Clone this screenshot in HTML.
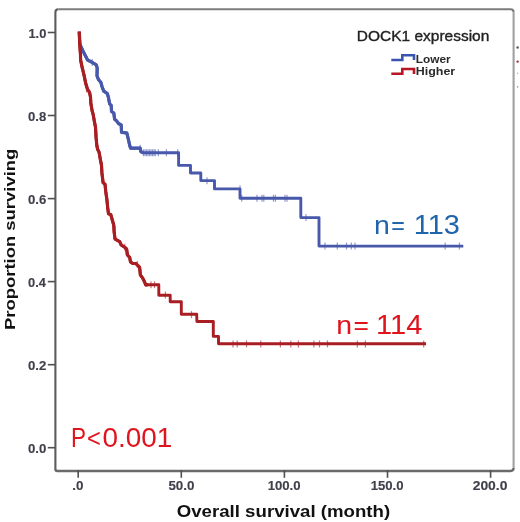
<!DOCTYPE html>
<html><head><meta charset="utf-8"><style>
html,body{margin:0;padding:0;background:#fff;}
body{width:520px;height:522px;overflow:hidden;}
svg{display:block;font-family:"Liberation Sans",sans-serif;}
</style></head><body>
<svg width="520" height="522" viewBox="0 0 520 522" style="filter:blur(0.55px)">
<rect width="520" height="522" fill="#fff"/>
<g fill="none" stroke-width="2.1" stroke-linecap="butt">
<path d="M55.4,469 L55.4,12.3 Q55.4,9.3 58.4,9.3" stroke="#5c5c5c"/>
<path d="M58.4,9.3 L510.6,9.3 Q513.6,9.3 513.6,12.3" stroke="#7c7c7c"/>
<path d="M513.6,12.3 L513.6,468.1" stroke="#a0a0a0"/>
<path d="M513.6,468.1 Q513.6,471.0 510.6,471.0 L57.4,471.0 Q55.4,471.0 55.4,469" stroke="#6a6a6a" stroke-width="2.4"/>
</g>
<g stroke="#505050" stroke-width="1.6"><line x1="47.8" y1="32.5" x2="55" y2="32.5"/><line x1="47.8" y1="115.5" x2="55" y2="115.5"/><line x1="47.8" y1="198.6" x2="55" y2="198.6"/><line x1="47.8" y1="281.6" x2="55" y2="281.6"/><line x1="47.8" y1="364.7" x2="55" y2="364.7"/><line x1="47.8" y1="447.7" x2="55" y2="447.7"/><line x1="78.2" y1="470" x2="78.2" y2="477.8"/><line x1="181.3" y1="470" x2="181.3" y2="477.8"/><line x1="284.4" y1="470" x2="284.4" y2="477.8"/><line x1="387.5" y1="470" x2="387.5" y2="477.8"/><line x1="490.6" y1="470" x2="490.6" y2="477.8"/></g>
<text transform="translate(28.49 38.00) scale(0.1283 0.1279)" font-size="100" textLength="139.01" lengthAdjust="spacingAndGlyphs" fill="#40404c" font-weight="bold" stroke="#40404c" stroke-width="1">1.0</text><text transform="translate(27.98 121.04) scale(0.1311 0.1279)" font-size="100" textLength="139.01" lengthAdjust="spacingAndGlyphs" fill="#40404c" font-weight="bold" stroke="#40404c" stroke-width="1">0.8</text><text transform="translate(27.98 204.08) scale(0.1316 0.1279)" font-size="100" textLength="139.01" lengthAdjust="spacingAndGlyphs" fill="#40404c" font-weight="bold" stroke="#40404c" stroke-width="1">0.6</text><text transform="translate(27.99 287.12) scale(0.1286 0.1279)" font-size="100" textLength="139.01" lengthAdjust="spacingAndGlyphs" fill="#40404c" font-weight="bold" stroke="#40404c" stroke-width="1">0.4</text><text transform="translate(27.98 370.16) scale(0.1320 0.1279)" font-size="100" textLength="139.01" lengthAdjust="spacingAndGlyphs" fill="#40404c" font-weight="bold" stroke="#40404c" stroke-width="1">0.2</text><text transform="translate(27.98 453.20) scale(0.1321 0.1279)" font-size="100" textLength="139.01" lengthAdjust="spacingAndGlyphs" fill="#40404c" font-weight="bold" stroke="#40404c" stroke-width="1">0.0</text><text transform="translate(72.19 490.10) scale(0.1338 0.1294)" font-size="100" textLength="83.40" lengthAdjust="spacingAndGlyphs" fill="#40404c" font-weight="bold" stroke="#40404c" stroke-width="1">.0</text><text transform="translate(168.39 490.10) scale(0.1334 0.1294)" font-size="100" textLength="194.63" lengthAdjust="spacingAndGlyphs" fill="#40404c" font-weight="bold" stroke="#40404c" stroke-width="1">50.0</text><text transform="translate(267.67 490.10) scale(0.1313 0.1294)" font-size="100" textLength="250.24" lengthAdjust="spacingAndGlyphs" fill="#40404c" font-weight="bold" stroke="#40404c" stroke-width="1">100.0</text><text transform="translate(370.67 490.10) scale(0.1313 0.1294)" font-size="100" textLength="250.24" lengthAdjust="spacingAndGlyphs" fill="#40404c" font-weight="bold" stroke="#40404c" stroke-width="1">150.0</text><text transform="translate(472.72 490.10) scale(0.1385 0.1294)" font-size="100" textLength="250.24" lengthAdjust="spacingAndGlyphs" fill="#40404c" font-weight="bold" stroke="#40404c" stroke-width="1">200.0</text>
<text transform="translate(176.74 516.60) scale(0.1864 0.1686)" font-size="100" textLength="1144.78" lengthAdjust="spacingAndGlyphs" fill="#111" font-weight="bold">Overall survival (month)</text><g transform="rotate(-90)"><text transform="translate(-330.03 14.50) scale(0.1844 0.1555)" font-size="100" textLength="983.40" lengthAdjust="spacingAndGlyphs" fill="#111" font-weight="bold">Proportion surviving</text></g><text transform="translate(356.83 40.90) scale(0.1548 0.1439)" font-size="100" textLength="855.91" lengthAdjust="spacingAndGlyphs" fill="#222" stroke="#222" stroke-width="2.5">DOCK1 expression</text><text transform="translate(415.81 62.60) scale(0.1181 0.1105)" font-size="100" textLength="294.48" lengthAdjust="spacingAndGlyphs" fill="#2a2a2a" font-weight="bold">Lower</text><text transform="translate(415.77 75.10) scale(0.1245 0.1090)" font-size="100" textLength="316.70" lengthAdjust="spacingAndGlyphs" fill="#2a2a2a" font-weight="bold">Higher</text>
<g fill="none" stroke-linejoin="round" stroke-linecap="butt">
<polyline points="79.3,32.0 79.8,44.0 80.9,46.5 82.9,50.8 85.8,56.5 87.6,60.0 92.2,62.4 96.2,64.8 97.2,68.0 97.0,75.8 98.5,79.6 100.8,82.2 102.0,86.5 103.8,91.2 107.3,93.5 108.5,97.7 109.6,103.8 111.2,105.4 111.5,111.5 113.8,113.0 114.6,119.2 116.5,120.8 118.5,123.5 121.2,125.0 121.5,132.3 126.8,133.0 128.3,139.0 129.6,145.0 130.6,148.2 140.2,148.2 140.8,151.5 143.0,152.8 178.6,152.8 178.6,165.4 190.5,165.4 190.5,173.0 200.8,173.0 200.8,180.6 214.5,180.6 214.5,188.9 240.0,188.9 240.0,198.3 300.8,198.3 300.8,217.6 319.0,217.6 319.0,246.1 463.3,246.1" stroke="#4858ab" stroke-width="2.9"/>
<polyline points="79.3,32.0 79.8,44.0 80.9,46.5 82.9,50.8 85.8,56.5 87.6,60.0 92.2,62.4 96.2,64.8 97.2,68.0 97.0,75.8 98.5,79.6 100.8,82.2 102.0,86.5 103.8,91.2 107.3,93.5 108.5,97.7 109.6,103.8 111.2,105.4 111.5,111.5 113.8,113.0 114.6,119.2 116.5,120.8 118.5,123.5 121.2,125.0 121.5,132.3 126.8,133.0 128.3,139.0 129.6,145.0 130.6,148.2 140.2,148.2 140.8,151.5 143.0,152.8" stroke="#4858ab" stroke-width="3.2"/>
<g stroke="#4858ab" stroke-width="1.2" opacity="0.6"><line x1="92.2" y1="58.9" x2="92.2" y2="65.9"/><line x1="97.1" y1="67.5" x2="97.1" y2="74.5"/><line x1="101.5" y1="82.5" x2="101.5" y2="89.5"/><line x1="108.5" y1="94.5" x2="108.5" y2="101.5"/><line x1="114.0" y1="112.5" x2="114.0" y2="119.5"/><line x1="121.3" y1="124.5" x2="121.3" y2="131.5"/><line x1="140.2" y1="144.7" x2="140.2" y2="151.7"/><line x1="143.5" y1="149.3" x2="143.5" y2="156.3"/><line x1="145.0" y1="149.3" x2="145.0" y2="156.3"/><line x1="146.5" y1="149.3" x2="146.5" y2="156.3"/><line x1="148.0" y1="149.3" x2="148.0" y2="156.3"/><line x1="149.5" y1="149.3" x2="149.5" y2="156.3"/><line x1="151.0" y1="149.3" x2="151.0" y2="156.3"/><line x1="152.5" y1="149.3" x2="152.5" y2="156.3"/><line x1="154.0" y1="149.3" x2="154.0" y2="156.3"/><line x1="155.3" y1="149.3" x2="155.3" y2="156.3"/><line x1="158.3" y1="149.3" x2="158.3" y2="156.3"/><line x1="166.4" y1="149.3" x2="166.4" y2="156.3"/><line x1="177.7" y1="149.3" x2="177.7" y2="156.3"/><line x1="207.0" y1="177.3" x2="207.0" y2="184.3"/><line x1="240.0" y1="185.3" x2="240.0" y2="192.3"/><line x1="241.7" y1="194.7" x2="241.7" y2="201.7"/><line x1="257.0" y1="194.7" x2="257.0" y2="201.7"/><line x1="262.0" y1="194.7" x2="262.0" y2="201.7"/><line x1="263.8" y1="194.7" x2="263.8" y2="201.7"/><line x1="273.5" y1="194.7" x2="273.5" y2="201.7"/><line x1="275.4" y1="194.7" x2="275.4" y2="201.7"/><line x1="285.0" y1="194.7" x2="285.0" y2="201.7"/><line x1="287.0" y1="194.7" x2="287.0" y2="201.7"/><line x1="306.0" y1="214.1" x2="306.0" y2="221.1"/><line x1="325.0" y1="242.6" x2="325.0" y2="249.6"/><line x1="337.3" y1="242.6" x2="337.3" y2="249.6"/><line x1="346.5" y1="242.6" x2="346.5" y2="249.6"/><line x1="351.3" y1="242.6" x2="351.3" y2="249.6"/><line x1="355.0" y1="242.6" x2="355.0" y2="249.6"/><line x1="445.2" y1="242.6" x2="445.2" y2="249.6"/><line x1="459.4" y1="242.6" x2="459.4" y2="249.6"/></g>
<polyline points="79.3,31.5 79.7,43.4 80.5,55.0 80.6,60.0 82.2,67.7 84.1,75.4 85.6,83.0 87.5,89.2 89.5,92.3 90.5,97.0 90.8,102.7 92.0,110.3 93.1,114.2 94.3,121.0 95.5,127.3 96.1,137.7 96.8,145.4 97.6,149.2 99.1,152.3 100.3,159.2 101.5,165.4 101.9,172.7 103.1,182.7 105.0,184.2 105.8,191.9 106.9,199.6 107.7,207.7 108.5,213.8 110.8,214.6 112.3,220.0 113.8,225.4 114.2,232.3 115.0,238.9 117.4,240.4 119.7,241.6 121.2,245.0 124.3,247.0 126.6,248.9 127.4,255.0 129.7,257.4 130.5,262.0 132.8,263.5 135.8,263.5 138.2,265.8 139.6,267.4 140.4,275.0 142.7,278.1 144.2,281.2 145.8,285.0 148.1,284.7 158.8,284.7 158.8,295.2 170.2,295.2 170.2,301.7 181.3,301.7 181.3,314.3 196.7,314.3 196.9,321.5 213.3,321.5 213.3,336.4 218.5,336.4 218.5,343.8 426.0,343.8" stroke="#a81e22" stroke-width="2.9"/>
<polyline points="79.3,31.5 79.7,43.4 80.5,55.0 80.6,60.0 82.2,67.7 84.1,75.4 85.6,83.0 87.5,89.2 89.5,92.3 90.5,97.0 90.8,102.7 92.0,110.3 93.1,114.2 94.3,121.0 95.5,127.3 96.1,137.7 96.8,145.4 97.6,149.2 99.1,152.3 100.3,159.2 101.5,165.4 101.9,172.7 103.1,182.7 105.0,184.2 105.8,191.9 106.9,199.6 107.7,207.7 108.5,213.8 110.8,214.6 112.3,220.0 113.8,225.4 114.2,232.3 115.0,238.9 117.4,240.4 119.7,241.6 121.2,245.0 124.3,247.0 126.6,248.9 127.4,255.0 129.7,257.4 130.5,262.0 132.8,263.5 135.8,263.5 138.2,265.8 139.6,267.4 140.4,275.0 142.7,278.1 144.2,281.2 145.8,285.0 148.1,284.7" stroke="#a81e22" stroke-width="3.2"/>
<g stroke="#a81e22" stroke-width="1.2" opacity="0.6"><line x1="86.5" y1="85.5" x2="86.5" y2="92.5"/><line x1="101.5" y1="161.9" x2="101.5" y2="168.9"/><line x1="113.3" y1="221.5" x2="113.3" y2="228.5"/><line x1="124.8" y1="243.8" x2="124.8" y2="250.8"/><line x1="137.3" y1="261.0" x2="137.3" y2="268.0"/><line x1="151.0" y1="281.2" x2="151.0" y2="288.2"/><line x1="154.5" y1="281.2" x2="154.5" y2="288.2"/><line x1="165.4" y1="291.5" x2="165.4" y2="298.5"/><line x1="191.5" y1="311.1" x2="191.5" y2="318.1"/><line x1="233.0" y1="340.4" x2="233.0" y2="347.4"/><line x1="237.2" y1="340.4" x2="237.2" y2="347.4"/><line x1="246.5" y1="340.4" x2="246.5" y2="347.4"/><line x1="260.8" y1="340.4" x2="260.8" y2="347.4"/><line x1="280.4" y1="340.4" x2="280.4" y2="347.4"/><line x1="290.8" y1="340.4" x2="290.8" y2="347.4"/><line x1="298.4" y1="340.4" x2="298.4" y2="347.4"/><line x1="313.8" y1="340.4" x2="313.8" y2="347.4"/><line x1="319.5" y1="340.4" x2="319.5" y2="347.4"/><line x1="327.5" y1="340.4" x2="327.5" y2="347.4"/><line x1="357.3" y1="340.4" x2="357.3" y2="347.4"/><line x1="365.4" y1="340.4" x2="365.4" y2="347.4"/><line x1="423.7" y1="340.4" x2="423.7" y2="347.4"/></g>
</g>
<path d="M391.3,60 H402.3 V55.2 H414 V60" fill="none" stroke="#3a55b0" stroke-width="2.6"/>
<path d="M391.3,73.7 H402.3 V69 H414 V74" fill="none" stroke="#b81525" stroke-width="2.6"/>
<text transform="translate(374.01 233.60) scale(0.2848 0.2587)" font-size="100" textLength="55.62" lengthAdjust="spacingAndGlyphs" fill="#1f65ab" stroke-width="0.01" stroke="#1f65ab">n</text><text transform="translate(391.26 233.60) scale(0.2326 0.2529)" font-size="100" textLength="58.40" lengthAdjust="spacingAndGlyphs" fill="#1f65ab" stroke-width="0.01" stroke="#1f65ab">=</text><text transform="translate(413.79 233.60) scale(0.2764 0.2733)" font-size="100" textLength="166.85" lengthAdjust="spacingAndGlyphs" fill="#1f65ab" stroke-width="0.01" stroke="#1f65ab">113</text><text transform="translate(336.31 334.00) scale(0.2848 0.2602)" font-size="100" textLength="55.62" lengthAdjust="spacingAndGlyphs" fill="#e0141e" stroke-width="0.01" stroke="#e0141e">n</text><text transform="translate(353.41 334.00) scale(0.2635 0.2587)" font-size="100" textLength="58.40" lengthAdjust="spacingAndGlyphs" fill="#e0141e" stroke-width="0.01" stroke="#e0141e">=</text><text transform="translate(376.08 334.00) scale(0.2777 0.2689)" font-size="100" textLength="166.85" lengthAdjust="spacingAndGlyphs" fill="#e0141e" stroke-width="0.01" stroke="#e0141e">114</text><text transform="translate(70.95 447.00) scale(0.2255 0.2791)" font-size="100" textLength="66.70" lengthAdjust="spacingAndGlyphs" fill="#e0141e" stroke-width="0.01" stroke="#e0141e">P</text><text transform="translate(87.03 447.00) scale(0.2367 0.2660)" font-size="100" textLength="58.40" lengthAdjust="spacingAndGlyphs" fill="#e0141e" stroke-width="0.01" stroke="#e0141e">&lt;</text><text transform="translate(102.51 447.00) scale(0.2791 0.2820)" font-size="100" textLength="250.24" lengthAdjust="spacingAndGlyphs" fill="#e0141e" stroke-width="0.01" stroke="#e0141e">0.001</text>
<circle cx="517.6" cy="47.5" r="1.2" fill="#556"/>
<circle cx="517.6" cy="61.6" r="1.2" fill="#a33"/>
<circle cx="517.6" cy="73.4" r="0.8" fill="#bbb"/>
<circle cx="517.6" cy="86.9" r="0.8" fill="#999"/>
</svg>
</body></html>
